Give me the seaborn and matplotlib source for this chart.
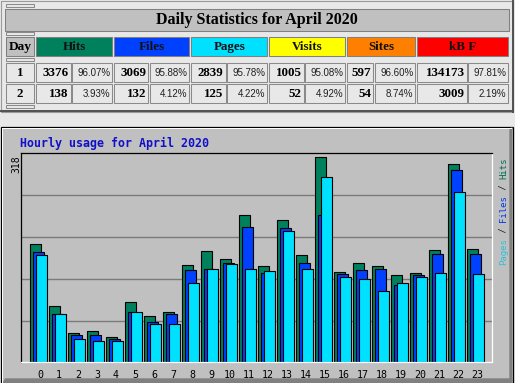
import numpy as np
import pandas as pd
import matplotlib
matplotlib.use('Agg')
import matplotlib.pyplot as plt
import seaborn as sns
from matplotlib.patches import Rectangle, Polygon

# hourly totals
hours = list(range(24))
hits = [180, 85, 44, 48, 39, 91, 70, 77, 148, 170, 157, 224,
        147, 217, 164, 312, 138, 151, 147, 133, 136, 171, 301, 173]
files = [168, 74, 42, 41, 35, 77, 62, 74, 141, 142, 151, 206,
         136, 204, 151, 224, 135, 141, 142, 118, 133, 165, 292, 165]
pages = [164, 74, 36, 32, 32, 77, 59, 58, 120, 142, 150, 142,
         139, 200, 142, 282, 130, 126, 109, 120, 130, 136, 259, 135]
y_max = 318

# daily statistics table
day_labels = ['1', '2']
stat_names = ['Hits', 'Files', 'Pages', 'Visits', 'Sites', 'kB F']
day_hits = [3376, 138]
day_hits_pct = ['96.07%', '3.93%']
day_files = [3069, 132]
day_files_pct = ['95.88%', '4.12%']
day_pages = [2839, 125]
day_pages_pct = ['95.78%', '4.22%']
day_visits = [1005, 52]
day_visits_pct = ['95.08%', '4.92%']
day_sites = [597, 54]
day_sites_pct = ['96.60%', '8.74%']
day_kbf = [134173, 3009]
day_kbf_pct = ['97.81%', '2.19%']

C_HITS, C_FILES, C_PAGES = '#00805C', '#0040FF', '#00E0FF'
C_VISITS, C_SITES, C_KB = '#FFFF00', '#FF8000', '#FF0000'
stat_colors = [C_HITS, C_FILES, C_PAGES, C_VISITS, C_SITES, C_KB]
PAGE_BG = '#E8E8E8'
GREY = '#C0C0C0'

fig = plt.figure(figsize=(5.15, 3.83), dpi=100)
fig.patch.set_facecolor(PAGE_BG)

bg = fig.add_axes([0, 0, 1, 1])
bg.set_xlim(0, 515)
bg.set_ylim(383, 0)
bg.axis('off')

SERIF = ['Liberation Serif', 'DejaVu Serif']
SANS = ['Liberation Sans', 'DejaVu Sans']
MONO = ['DejaVu Sans Mono']


def cell(x0, x1, y0, y1, fc=PAGE_BG, ec='#8a8a8a'):
    bg.add_patch(Rectangle((x0, y0), x1 - x0, y1 - y0, facecolor=fc,
                           edgecolor=ec, linewidth=0.75))


# outer table border
bg.add_patch(Rectangle((0.5, 0.5), 512, 111, facecolor=PAGE_BG,
                       edgecolor='#9a9a9a', linewidth=0.8))
bg.plot([512.8, 512.8], [0.5, 112], color='#505050', lw=1.4)
bg.plot([0.5, 512.8], [111.3, 111.3], color='#505050', lw=1.4)

# spacer rows
for y0 in [4, 32.3, 58.3, 105.3]:
    cell(5.7, 34.3, y0, y0 + 3)

# title row
cell(5, 509, 9, 31, fc=GREY, ec='#808080')
bg.text(257, 20.5, 'Daily Statistics for April 2020', ha='center', va='center',
        fontsize=11.5, fontweight='bold', family=SERIF)

# header row
cols = [(36.3, 70.7, 72.3, 112), (114, 148.3, 150, 189.3),
        (191.3, 225.7, 227.3, 267.3), (269.3, 303.7, 305.3, 345.3),
        (347.3, 373.3, 375, 415.3), (417.3, 466.7, 468.3, 508)]
cell(5.7, 34.3, 36.7, 56, fc=GREY, ec='#808080')
bg.text(20, 47, 'Day', ha='center', va='center', fontsize=9.6,
        fontweight='bold', family=SERIF)
for (a0, a1, b0, b1), name, col in zip(cols, stat_names, stat_colors):
    cell(a0, b1, 36.7, 56, fc=col, ec='#808080')
    bg.text((a0 + b1) / 2, 47, name, ha='center', va='center', fontsize=9.4,
            fontweight='bold', family=SERIF, color='#101010')

# data rows
vals = [day_hits, day_files, day_pages, day_visits, day_sites, day_kbf]
pcts = [day_hits_pct, day_files_pct, day_pages_pct, day_visits_pct,
        day_sites_pct, day_kbf_pct]
rows = [(62.7, 82), (84, 103.3)]
for i, (r0, r1) in enumerate(rows):
    yc = (r0 + r1) / 2 + 0.5
    cell(5.7, 34.3, r0, r1)
    bg.text(20, yc, day_labels[i], ha='center', va='center', fontsize=9.4,
            fontweight='bold', family=SERIF)
    for (a0, a1, b0, b1), v, p in zip(cols, vals, pcts):
        cell(a0, a1, r0, r1)
        cell(b0, b1, r0, r1)
        bg.text(a1 - 2, yc, str(v[i]), ha='right', va='center', fontsize=9.4,
                fontweight='bold', family=SERIF)
        bg.text(b1 - 1.8, yc, p[i], ha='right', va='center', fontsize=7.0,
                family=SANS, color='#202020')

# chart image frame
bg.add_patch(Rectangle((1.3, 126.5), 511.5, 260, facecolor=GREY,
                       edgecolor='black', linewidth=0.9))
bg.plot([2.3, 511], [127.6, 127.6], color='white', lw=0.7)
bg.plot([2.3, 2.3], [127.6, 383], color='white', lw=0.7)
bg.add_patch(Polygon([(509.3, 129.5), (512.3, 126.8), (512.3, 384), (509.3, 384)],
                     closed=True, facecolor='#808080', edgecolor='none'))
bg.add_patch(Polygon([(1.8, 384), (5, 378.3), (512.3, 378.3), (512.3, 384)],
                     closed=True, facecolor='#808080', edgecolor='none'))

bg.text(20.5, 143, 'Hourly usage for April 2020', ha='left', va='center',
        fontsize=8.4, fontweight='bold', family=MONO, color='#1010C8')
bg.text(16, 164, str(y_max), ha='center', va='center', rotation=90,
        fontsize=7, family=MONO)

# vertical legend, reading bottom to top
leg_parts = [('Pages', '#2EC0D8'), (' / ', '#202020'), ('Files', '#0038E8'),
             (' / ', '#202020'), ('Hits', '#00704F')]
char_px = 5.4
pos = 0
for txt, col in leg_parts:
    bg.text(503.5, 265 - pos * char_px, txt, rotation=90, rotation_mode='anchor',
            ha='left', va='center', fontsize=6.46, family=MONO, color=col)
    pos += len(txt)

# bar chart
L, R, T, B = 21, 491.7, 153.3, 362.3
ax = fig.add_axes([L / 515, (383 - B) / 383, (R - L) / 515, (B - T) / 383])
ax.set_facecolor(GREY)

df = pd.DataFrame({'hour': hours, 'hits': hits, 'files': files, 'pages': pages})
for col, color, off in [('hits', C_HITS, -0.24), ('files', C_FILES, -0.08),
                        ('pages', C_PAGES, 0.08)]:
    sns.barplot(x=df['hour'] + off, y=df[col], native_scale=True, width=0.55,
                color=color, saturation=1, edgecolor='black', linewidth=0.8,
                ax=ax)

ax.set_xlim(-1.0, 23.77)
ax.set_ylim(0, y_max)
ax.set_yticks([y_max / 5 * k for k in range(1, 5)])
ax.yaxis.grid(True, color='#7a7a7a', linewidth=1.0)
ax.set_axisbelow(True)
ax.set_xticks(hours)
ax.set_xticklabels([str(h) for h in hours], family=MONO, fontsize=7.2)
ax.tick_params(axis='y', left=False, labelleft=False)
ax.tick_params(axis='x', bottom=False, pad=2)
ax.set_xlabel('')
ax.set_ylabel('')
for side in ['top', 'left']:
    ax.spines[side].set_color('black')
    ax.spines[side].set_linewidth(0.9)
for side in ['bottom', 'right']:
    ax.spines[side].set_color('white')
    ax.spines[side].set_linewidth(0.9)

fig.savefig('out.png', dpi=100, facecolor=fig.get_facecolor())
